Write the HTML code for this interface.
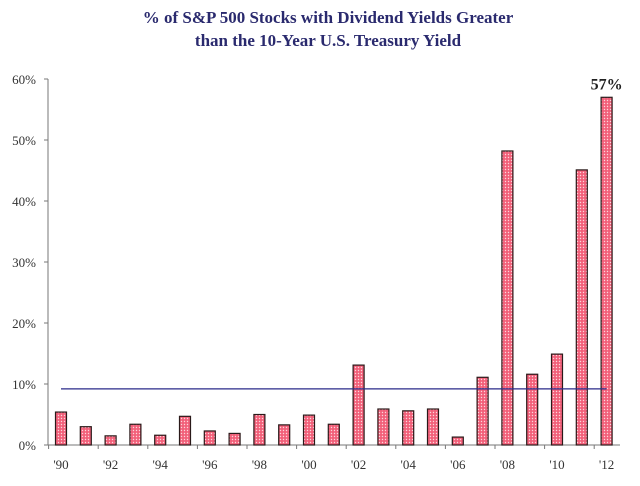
<!DOCTYPE html>
<html><head><meta charset="utf-8"><style>
body{margin:0;background:#fff;}
svg{display:block;font-family:"Liberation Serif",serif;}
</style></head><body>
<svg width="640" height="486" viewBox="0 0 640 486">
<defs>
<pattern id="dots" width="3" height="3" patternUnits="userSpaceOnUse">
<rect width="3" height="3" fill="#f2607a"/>
<circle cx="1.5" cy="1.5" r="0.7" fill="#fcd6dc"/>
</pattern>
</defs>
<text x="328" y="23" text-anchor="middle" font-size="17" font-weight="bold" fill="#2a2a6e">% of S&amp;P 500 Stocks with Dividend Yields Greater</text>
<text x="328" y="46" text-anchor="middle" font-size="17" font-weight="bold" fill="#2a2a6e">than the 10-Year U.S. Treasury Yield</text>
<g id="axes"></g>
<g id="bars"></g>
<g id="ref"></g>
</svg>
<script>
const categories=["'90","'91","'92","'93","'94","'95","'96","'97","'98","'99","'00","'01","'02","'03","'04","'05","'06","'07","'08","'09","'10","'11","'12"];
const values=[5.4,3.0,1.5,3.4,1.6,4.7,2.3,1.9,5.0,3.3,4.9,3.4,13.1,5.9,5.6,5.9,1.3,11.1,48.2,11.6,14.9,45.1,57];
const yTicks=[0,10,20,30,40,50,60];
const treasuryLine=[9.2];
const NS="http://www.w3.org/2000/svg";
const x0=48,y0=445,yTop=79,first=61,step=24.8,bw=11;
const y=v=>y0-(v/60)*(y0-yTop);
const x=i=>first+i*step;
function mk(t,a,p){const e=document.createElementNS(NS,t);for(const k in a)e.setAttribute(k,a[k]);p.appendChild(e);return e;}
const ax=document.getElementById('axes');
const yl=mk('line',{x1:x0,y1:yTop,x2:x0,y2:y0,stroke:'#777','stroke-width':1},ax);


const xl=mk('line',{x1:x0,y1:y0,x2:620,y2:y0,stroke:'#777','stroke-width':1},ax);


yTicks.forEach(t=>{
 mk('line',{x1:x0-4,y1:y(t),x2:x0,y2:y(t),stroke:'#777'},ax);
 const tx=mk('text',{x:x0-12,y:y(t)+5,'text-anchor':'end','font-size':13,fill:'#333'},ax);
 tx.textContent=t+'%';
 
 
});
for(let i=0;i<=categories.length;i+=2){
 mk('line',{x1:x(i)-step/2,y1:y0,x2:x(i)-step/2,y2:y0+4,stroke:'#777'},ax);
}
categories.forEach((c,i)=>{
 if(i%2===0){
  const tx=mk('text',{x:x(i),y:y0+24,'text-anchor':'middle','font-size':13,fill:'#333'},ax);
  tx.textContent=c;
  
  
 }
});
const bg=document.getElementById('bars');
values.forEach((v,i)=>{
 const r=mk('rect',{x:x(i)-bw/2,y:y(v),width:bw,height:y0-y(v),fill:'url(#dots)',stroke:'#2a1a1a','stroke-width':1.2},bg);
 
 
});
const last=values.length-1;
const lab=mk('text',{x:x(last),y:y(values[last])-8,'text-anchor':'middle','font-size':16,'font-weight':'bold',fill:'#222'},bg);
lab.textContent=values[last]+'%';


const rl=mk('line',{x1:x(0),y1:y(treasuryLine[0]),x2:x(last),y2:y(treasuryLine[0]),stroke:'#2a2a8a','stroke-width':1.3},document.getElementById('ref'));


</script>
</body></html>
